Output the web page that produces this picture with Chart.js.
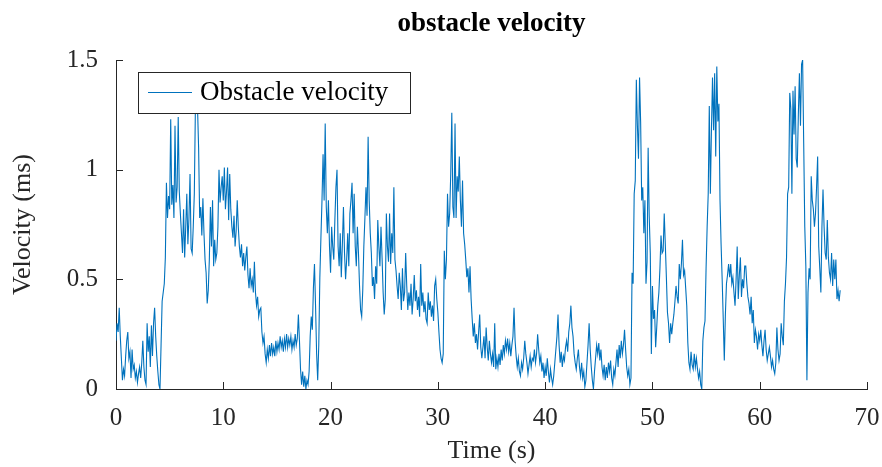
<!DOCTYPE html>
<html>
<head>
<meta charset="utf-8">
<script src="https://cdn.jsdelivr.net/npm/chart.js@4/dist/chart.umd.min.js"></script>
<style>
  html, body { margin: 0; padding: 0; background: #fff; }
  #wrap { width: 882px; height: 467px; }
</style>
</head>
<body>
<div id="wrap"><canvas id="velocity-chart" width="882" height="467"></canvas></div>
<script>
const chartTitle = "obstacle velocity";
const seriesLabel = "Obstacle velocity";
const xTitle = "Time (s)";
const yTitle = "Velocity (ms)";
const xTicks = [0, 10, 20, 30, 40, 50, 60, 70];
const yTicks = [0, 0.5, 1, 1.5];
const sampleStep = 0.1; // seconds between samples

// obstacle velocity, one row per second (10 samples each)
const velocity = [
  0.22, 0.30, 0.26, 0.37, 0.24, 0.14, 0.04, 0.09, 0.06, 0.15,
  0.22, 0.26, 0.14, 0.17, 0.05, 0.18, 0.09, 0.11, 0.05, 0.08,
  0.03, 0.07, 0.10, 0.05, 0.12, 0.22, 0.10, 0.04, 0.02, 0.30,
  0.17, 0.24, 0.10, 0.29, 0.15, 0.30, 0.37, 0.24, 0.15, 0.08,
  0.02, 0.00, 0.20, 0.40, 0.44, 0.48, 0.60, 0.94, 0.78, 0.88,
  0.82, 1.23, 0.84, 0.93, 0.78, 1.20, 0.85, 0.92, 1.24, 0.90,
  0.80, 0.71, 0.62, 0.82, 0.60, 0.74, 0.89, 0.66, 0.78, 0.98,
  0.64, 0.62, 0.74, 0.89, 1.28, 1.32, 1.28, 1.10, 0.78, 0.83,
  0.70, 0.87, 0.71, 0.59, 0.53, 0.39, 0.45, 0.59, 0.83, 0.65,
  0.86, 0.56, 0.68, 0.59, 0.62, 0.74, 1.00, 0.85, 0.92, 0.97,
  0.86, 1.01, 0.82, 0.90, 1.01, 0.77, 0.98, 0.82, 0.74, 0.69,
  0.79, 0.65, 0.72, 0.86, 0.74, 0.65, 0.60, 0.66, 0.56, 0.62,
  0.54, 0.60, 0.65, 0.52, 0.46, 0.55, 0.47, 0.50, 0.44, 0.58,
  0.44, 0.38, 0.42, 0.33, 0.36, 0.37, 0.26, 0.21, 0.24, 0.16,
  0.12, 0.18, 0.14, 0.20, 0.15, 0.21, 0.16, 0.19, 0.15, 0.22,
  0.17, 0.21, 0.18, 0.24, 0.19, 0.22, 0.17, 0.23, 0.19, 0.25,
  0.19, 0.23, 0.20, 0.24, 0.18, 0.22, 0.19, 0.25, 0.20, 0.23,
  0.34, 0.22, 0.09, 0.02, 0.08, 0.01, 0.06, 0.00, 0.04, 0.02,
  0.08, 0.24, 0.33, 0.27, 0.46, 0.57, 0.38, 0.16, 0.04, 0.20,
  0.51, 0.69, 0.86, 1.07, 0.86, 1.21, 0.83, 0.71, 0.86, 0.65,
  0.53, 0.74, 0.65, 0.59, 0.77, 0.92, 1.00, 0.65, 0.56, 0.71,
  0.51, 0.66, 0.83, 0.62, 0.50, 0.59, 0.71, 0.56, 0.80, 0.86,
  0.94, 0.71, 0.89, 0.65, 0.56, 0.74, 0.62, 0.47, 0.36, 0.33,
  0.45, 0.65, 0.78, 0.92, 0.79, 1.15, 0.86, 0.71, 0.62, 0.47,
  0.51, 0.41, 0.56, 0.48, 0.77, 0.65, 0.56, 0.74, 0.60, 0.44,
  0.34, 0.41, 0.80, 0.65, 0.58, 0.80, 0.57, 0.71, 0.62, 0.92,
  0.59, 0.54, 0.47, 0.41, 0.53, 0.47, 0.36, 0.55, 0.40, 0.44,
  0.62, 0.47, 0.36, 0.44, 0.38, 0.48, 0.34, 0.41, 0.52, 0.40,
  0.45, 0.36, 0.42, 0.33, 0.57, 0.38, 0.44, 0.35, 0.40, 0.32,
  0.30, 0.44, 0.36, 0.40, 0.33, 0.38, 0.31, 0.47, 0.50, 0.41,
  0.35, 0.26, 0.18, 0.14, 0.12, 0.16, 0.63, 0.50, 0.59, 0.89,
  0.74, 0.80, 0.98, 1.26, 0.83, 0.78, 1.21, 0.78, 0.97, 0.90,
  1.06, 0.86, 0.74, 0.95, 0.71, 0.66, 0.59, 0.51, 0.55, 0.44,
  0.56, 0.41, 0.32, 0.24, 0.30, 0.21, 0.25, 0.18, 0.26, 0.34,
  0.19, 0.14, 0.19, 0.24, 0.14, 0.28, 0.19, 0.13, 0.22, 0.16,
  0.12, 0.16, 0.10, 0.30, 0.09, 0.14, 0.10, 0.16, 0.11, 0.18,
  0.13, 0.20, 0.16, 0.22, 0.18, 0.23, 0.17, 0.21, 0.15, 0.20,
  0.24, 0.37, 0.22, 0.15, 0.10, 0.14, 0.08, 0.06, 0.12, 0.09,
  0.14, 0.22, 0.16, 0.12, 0.07, 0.11, 0.15, 0.10, 0.14, 0.13,
  0.18, 0.12, 0.16, 0.25, 0.18, 0.12, 0.15, 0.08, 0.12, 0.05,
  0.10, 0.06, 0.14, 0.08, 0.03, 0.09, 0.05, 0.02, 0.06, 0.12,
  0.18, 0.24, 0.34, 0.20, 0.12, 0.17, 0.10, 0.15, 0.13, 0.19,
  0.22, 0.17, 0.26, 0.30, 0.38, 0.28, 0.24, 0.16, 0.12, 0.09,
  0.14, 0.18, 0.10, 0.06, 0.12, 0.05, 0.08, 0.01, 0.04, 0.12,
  0.20, 0.30, 0.18, 0.10, 0.04, 0.00, 0.08, 0.14, 0.20, 0.16,
  0.21, 0.13, 0.18, 0.10, 0.06, 0.11, 0.04, 0.10, 0.05, 0.12,
  0.08, 0.13, 0.05, 0.02, 0.09, 0.06, 0.12, 0.18, 0.10, 0.20,
  0.14, 0.22, 0.16, 0.20, 0.27, 0.18, 0.10, 0.06, 0.09, 0.02,
  0.05, 0.53, 0.48, 0.89, 0.95, 1.41, 1.20, 1.05, 1.42, 1.22,
  0.86, 0.92, 0.71, 0.86, 0.48, 0.58, 1.10, 0.79, 0.62, 0.16,
  0.47, 0.32, 0.36, 0.19, 0.28, 0.38, 0.44, 0.55, 0.70, 0.62,
  0.63, 0.80, 0.66, 0.51, 0.35, 0.30, 0.21, 0.30, 0.25, 0.30,
  0.34, 0.40, 0.47, 0.42, 0.39, 0.57, 0.50, 0.57, 0.68, 0.52,
  0.54, 0.46, 0.38, 0.21, 0.12, 0.09, 0.17, 0.11, 0.09, 0.16,
  0.10, 0.14, 0.09, 0.05, 0.08, 0.02, 0.00, 0.22, 0.28, 0.31,
  0.55, 0.74, 0.89, 1.29, 0.89, 1.18, 1.42, 1.18, 1.44, 1.06,
  1.47, 1.22, 1.30, 0.86, 0.66, 0.50, 0.32, 0.13, 0.34, 0.48,
  0.52, 0.57, 0.51, 0.57, 0.48, 0.51, 0.44, 0.38, 0.50, 0.65,
  0.41, 0.52, 0.60, 0.42, 0.50, 0.46, 0.56, 0.56, 0.48, 0.42,
  0.39, 0.34, 0.42, 0.30, 0.36, 0.21, 0.27, 0.24, 0.18, 0.25,
  0.22, 0.27, 0.20, 0.15, 0.22, 0.27, 0.18, 0.13, 0.16, 0.19,
  0.15, 0.10, 0.13, 0.09, 0.07, 0.12, 0.28, 0.18, 0.13, 0.16,
  0.30, 0.24, 0.20, 0.40, 0.48, 0.60, 0.89, 0.92, 1.35, 1.28,
  0.89, 1.36, 1.16, 1.38, 1.05, 1.01, 1.25, 1.44, 1.20, 1.48,
  1.50, 1.12, 0.74, 0.56, 0.04, 0.44, 0.55, 0.50, 0.97, 0.86,
  0.82, 0.74, 0.80, 0.92, 1.06, 0.65, 0.55, 0.44, 0.74, 0.91,
  0.74, 0.62, 0.59, 0.77, 0.60, 0.53, 0.50, 0.62, 0.47, 0.59,
  0.50, 0.59, 0.41, 0.45, 0.40, 0.45
];

const LINE_COLOR = "#0072bd";
const AXIS_COLOR = "#262626";
const SERIF = '"Liberation Serif", "Times New Roman", serif';

// inward tick marks, matlab style
const inwardTicks = {
  id: "inwardTicks",
  afterDraw(chart) {
    const { ctx, chartArea, scales } = chart;
    ctx.save();
    ctx.strokeStyle = AXIS_COLOR;
    ctx.lineWidth = 1;
    ctx.beginPath();
    xTicks.forEach(v => {
      const px = Math.round(scales.x.getPixelForValue(v)) + 0.5;
      ctx.moveTo(px, chartArea.bottom);
      ctx.lineTo(px, chartArea.bottom - 7);
    });
    yTicks.forEach(v => {
      const py = Math.round(scales.y.getPixelForValue(v)) + 0.5;
      ctx.moveTo(chartArea.left, py);
      ctx.lineTo(chartArea.left + 7, py);
    });
    ctx.stroke();
    ctx.restore();
  }
};

// boxed legend with white fill, drawn over the line
const boxedLegend = {
  id: "boxedLegend",
  afterDatasetsDraw(chart) {
    const ctx = chart.ctx;
    ctx.save();
    ctx.fillStyle = "#fff";
    ctx.fillRect(138, 72, 272, 41);
    ctx.strokeStyle = AXIS_COLOR;
    ctx.lineWidth = 1;
    ctx.strokeRect(138.5, 72.5, 272, 41);
    ctx.strokeStyle = LINE_COLOR;
    ctx.beginPath();
    ctx.moveTo(148, 92.5);
    ctx.lineTo(192, 92.5);
    ctx.stroke();
    ctx.fillStyle = "#000";
    ctx.font = "27px " + SERIF;
    ctx.textBaseline = "middle";
    ctx.fillText(seriesLabel, 200, 93);
    ctx.restore();
  }
};

const points = velocity.map((v, i) => ({ x: i * sampleStep, y: v }));

new Chart(document.getElementById("velocity-chart").getContext("2d"), {
  type: "line",
  data: {
    datasets: [{
      label: seriesLabel,
      data: points,
      borderColor: LINE_COLOR,
      borderWidth: 1.1,
      pointRadius: 0,
      tension: 0,
      fill: false,
    }],
  },
  options: {
    responsive: false,
    animation: false,
    devicePixelRatio: 1,
    layout: { padding: 0 },
    plugins: {
      legend: { display: false },
      tooltip: { enabled: false },
      title: {
        display: true,
        text: chartTitle,
        fullSize: false,
        color: "#000",
        font: { family: SERIF, size: 27, weight: "bold", lineHeight: 1.2 },
        padding: { top: 8, bottom: 19.6 },
      },
    },
    scales: {
      x: {
        type: "linear",
        min: 0,
        max: 70,
        afterBuildTicks: s => { s.ticks = xTicks.map(v => ({ value: v })); },
        afterFit: s => { s.height = 78; s.paddingLeft = 0; s.paddingRight = 15; },
        grid: { display: false },
        border: { display: true, color: AXIS_COLOR, width: 1 },
        ticks: { color: AXIS_COLOR, padding: 6, maxRotation: 0, font: { family: SERIF, size: 25 } },
        title: {
          display: true,
          text: xTitle,
          color: AXIS_COLOR,
          font: { family: SERIF, size: 26, lineHeight: 1.2 },
          padding: { top: 0, bottom: 0 },
        },
      },
      y: {
        type: "linear",
        min: 0,
        max: 1.5,
        afterBuildTicks: s => { s.ticks = yTicks.map(v => ({ value: v })); },
        afterFit: s => { s.width = 116; },
        grid: { display: false },
        border: { display: true, color: AXIS_COLOR, width: 1 },
        ticks: {
          color: AXIS_COLOR,
          padding: 10,
          font: { family: SERIF, size: 25 },
          callback: v => String(v),
        },
        title: {
          display: true,
          text: yTitle,
          color: AXIS_COLOR,
          font: { family: SERIF, size: 26, lineHeight: 1.2 },
          padding: { top: 8, bottom: 0 },
        },
      },
    },
  },
  plugins: [inwardTicks, boxedLegend],
});
</script>
</body>
</html>
